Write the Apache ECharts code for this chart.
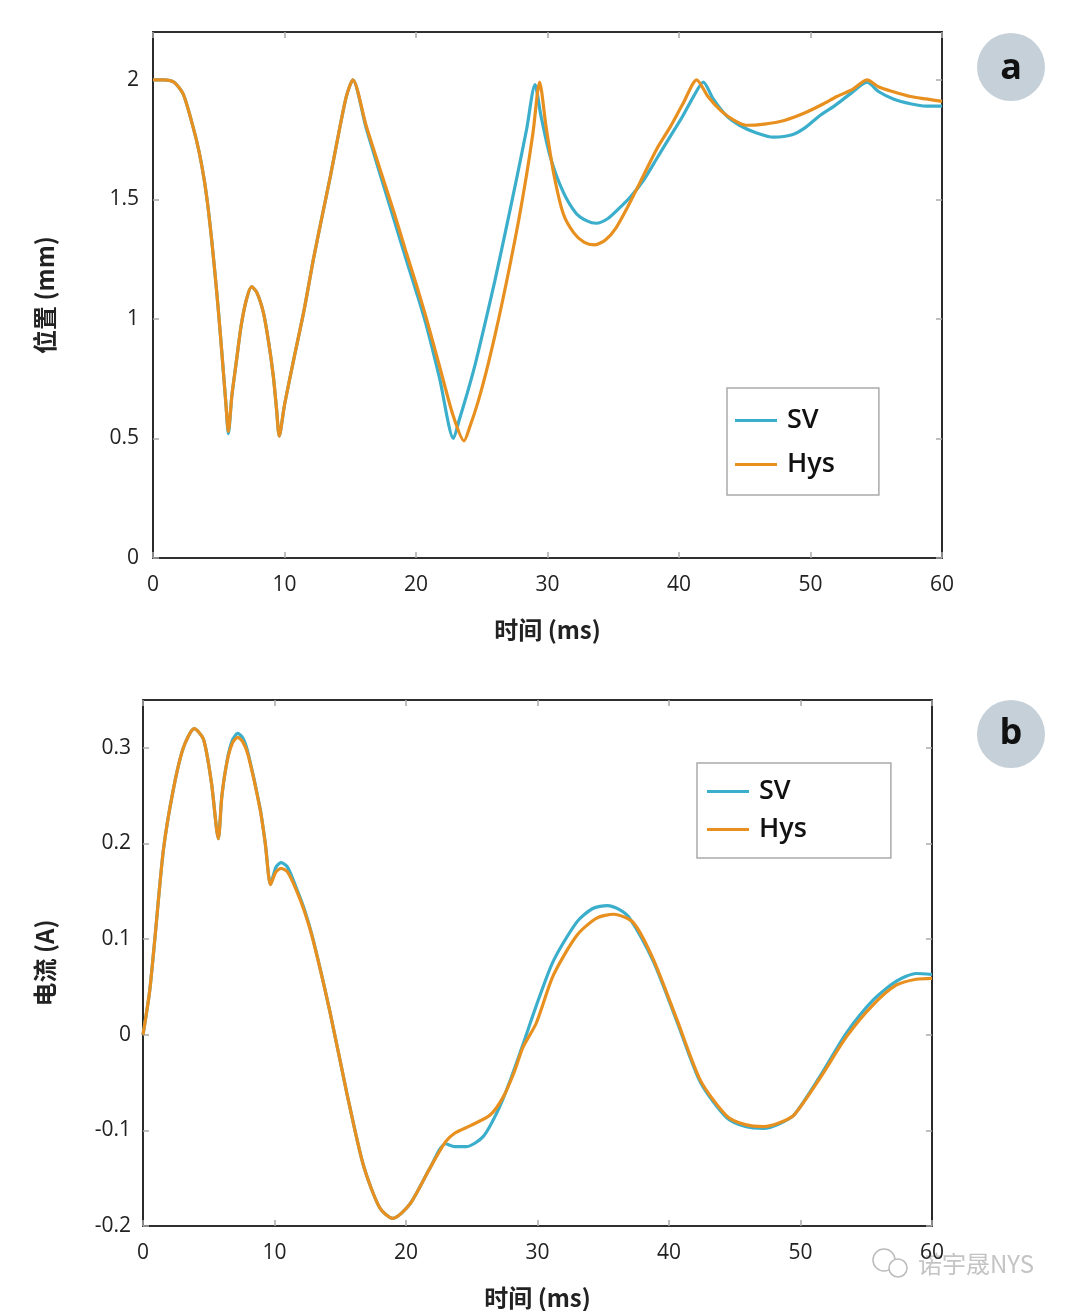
<!DOCTYPE html>
<html>
<head>
<meta charset="utf-8">
<script src="https://cdn.jsdelivr.net/npm/echarts@6/dist/echarts.min.js"></script>
<style>html,body{margin:0;padding:0;background:#fff}#c{width:1080px;height:1311px}</style>
</head>
<body>
<div id="c"></div>
<script>
// ---- Data (t in ms, value) ----
var posSV = [[0,2.0],[0.8,2.0],[1.6,1.99],[2.3,1.94],[3.06,1.80],[3.5,1.70],[3.9,1.58],[4.2,1.46],[4.5,1.31],[4.85,1.11],[5.1,0.95],[5.35,0.78],[5.55,0.64],[5.73,0.52],[6.0,0.68],[6.36,0.83],[6.7,0.97],[7.1,1.08],[7.5,1.135],[7.9,1.11],[8.4,1.025],[8.8,0.9],[9.15,0.76],[9.4,0.62],[9.6,0.51],[10.0,0.64],[10.7,0.83],[11.5,1.04],[12.2,1.25],[12.9,1.44],[13.5,1.60],[14.1,1.77],[14.7,1.93],[15.2,2.0],[16.2,1.80],[17.3,1.60],[18.3,1.42],[19.3,1.24],[20.1,1.10],[20.8,0.97],[21.8,0.75],[22.85,0.50],[23.3,0.58],[23.9,0.69],[24.5,0.81],[25.2,0.97],[26.0,1.16],[26.9,1.39],[27.7,1.60],[28.4,1.79],[29.05,1.98],[29.5,1.85],[30.2,1.68],[31.2,1.53],[32.2,1.44],[33.0,1.41],[33.7,1.40],[34.6,1.42],[35.4,1.46],[36.3,1.51],[37.3,1.58],[38.3,1.67],[39.3,1.76],[40.3,1.85],[41.1,1.93],[41.85,1.99],[42.6,1.92],[43.6,1.85],[44.6,1.81],[45.8,1.78],[47.2,1.76],[48.6,1.77],[49.6,1.80],[50.7,1.85],[51.8,1.89],[53.0,1.94],[54.3,1.99],[55.2,1.95],[56.3,1.92],[57.6,1.90],[58.8,1.89],[60,1.89]];
var posHys = [[0,2.0],[0.8,2.0],[1.6,1.99],[2.3,1.94],[3.06,1.80],[3.5,1.70],[3.9,1.58],[4.2,1.46],[4.5,1.31],[4.85,1.11],[5.1,0.95],[5.35,0.78],[5.55,0.64],[5.73,0.53],[6.0,0.68],[6.36,0.83],[6.7,0.97],[7.1,1.08],[7.5,1.135],[7.9,1.11],[8.4,1.025],[8.8,0.9],[9.15,0.76],[9.4,0.62],[9.6,0.51],[10.0,0.64],[10.7,0.83],[11.5,1.04],[12.2,1.25],[12.9,1.44],[13.5,1.60],[14.1,1.77],[14.7,1.93],[15.2,2.0],[16.2,1.81],[17.3,1.62],[18.3,1.45],[19.3,1.27],[20.1,1.13],[20.8,1.00],[21.8,0.80],[22.8,0.60],[23.65,0.49],[24.1,0.55],[24.7,0.65],[25.3,0.77],[26.0,0.93],[26.6,1.08],[27.2,1.24],[27.8,1.41],[28.4,1.60],[28.9,1.78],[29.4,1.99],[29.9,1.8],[30.5,1.6],[31.2,1.44],[32.0,1.36],[32.8,1.32],[33.6,1.31],[34.4,1.33],[35.2,1.38],[36.3,1.49],[37.3,1.6],[38.3,1.71],[39.3,1.80],[40.3,1.90],[41.35,2.0],[42.2,1.93],[43.2,1.87],[44.2,1.83],[45.1,1.81],[46.5,1.815],[48.0,1.83],[49.5,1.86],[51.0,1.90],[52.0,1.93],[53.2,1.96],[54.3,2.0],[55.2,1.97],[56.3,1.95],[57.6,1.93],[58.8,1.92],[60,1.91]];
var curSV = [[0,0],[0.5,0.045],[0.9,0.10],[1.55,0.193],[2.3,0.256],[3.07,0.30],[3.9,0.32],[4.6,0.309],[5.2,0.264],[5.73,0.205],[6.0,0.25],[6.4,0.287],[6.8,0.308],[7.2,0.315],[7.6,0.31],[8.0,0.294],[8.9,0.237],[9.3,0.2],[9.7,0.157],[10.1,0.175],[10.5,0.18],[11.0,0.175],[11.7,0.152],[12.3,0.13],[12.95,0.099],[14.2,0.025],[15.5,-0.061],[16.75,-0.136],[18.0,-0.181],[19.0,-0.192],[20.3,-0.177],[21.8,-0.140],[23.0,-0.114],[23.7,-0.117],[24.6,-0.117],[25.9,-0.106],[27.1,-0.076],[28.0,-0.045],[28.9,-0.01],[29.9,0.03],[31.2,0.077],[33.0,0.118],[34.2,0.132],[35.3,0.135],[36.2,0.131],[37.0,0.122],[38.8,0.077],[40.6,0.014],[42.4,-0.050],[44.4,-0.087],[45.8,-0.096],[47.2,-0.098],[48.4,-0.093],[49.5,-0.084],[51.5,-0.043],[53.5,0.002],[55.5,0.036],[57.3,0.056],[58.8,0.064],[60,0.063]];
var curHys = [[0,0],[0.5,0.045],[0.9,0.10],[1.55,0.193],[2.3,0.256],[3.07,0.30],[3.9,0.32],[4.6,0.309],[5.2,0.264],[5.73,0.205],[6.0,0.25],[6.4,0.286],[6.8,0.305],[7.2,0.311],[7.6,0.306],[8.0,0.292],[8.9,0.236],[9.3,0.2],[9.7,0.157],[10.1,0.17],[10.5,0.174],[11.0,0.17],[11.7,0.15],[12.3,0.128],[12.95,0.098],[14.2,0.025],[15.5,-0.061],[16.75,-0.136],[18.0,-0.181],[19.0,-0.192],[20.3,-0.177],[21.8,-0.140],[23.0,-0.112],[23.7,-0.103],[24.9,-0.095],[26.4,-0.084],[27.4,-0.065],[28.2,-0.04],[28.9,-0.013],[29.9,0.012],[31.2,0.062],[33.0,0.104],[34.5,0.122],[35.8,0.126],[37.3,0.117],[38.8,0.079],[40.6,0.016],[42.4,-0.048],[44.4,-0.085],[45.8,-0.094],[47.2,-0.096],[48.4,-0.092],[49.5,-0.084],[51.5,-0.045],[53.5,-0.002],[55.5,0.031],[57.3,0.052],[58.8,0.058],[60,0.059]];
var seriesNames = ['SV', 'Hys'];
var xTitle = '时间 (ms)';
var yTitleTop = '位置 (mm)';
var yTitleBottom = '电流 (A)';
var topTicks = [0, 0.5, 1, 1.5, 2];
var bottomTicks = [-0.2, -0.1, 0, 0.1, 0.2, 0.3];
var panelLabels = ['a', 'b'];
var watermark = '诺宇晟NYS';

var COL_SV = '#3aaecb', COL_HYS = '#e8901f';
var FONT = '"Open Sans", "Noto Sans", "Noto Sans CJK SC", sans-serif';
var CJK = '"Noto Sans CJK SC", "Open Sans", sans-serif';

var chart = echarts.init(document.getElementById('c'), null, {renderer: 'canvas'});

function xAx(grid, pos, show) {
  return {
    type: 'value', gridIndex: grid, position: pos, min: 0, max: 60, interval: 10,
    axisLine: {show: true, onZero: false, lineStyle: {color: '#222', width: 1.6}},
    axisTick: {show: true, inside: true, length: 6, lineStyle: {color: '#aaa', width: 1.5}},
    axisLabel: {show: show, fontSize: 21, color: '#222', fontFamily: FONT, margin: 17},
    splitLine: {show: false},
    name: show ? xTitle : '', nameLocation: 'middle', nameGap: 60,
    nameTextStyle: {fontSize: 24, fontWeight: 'bold', color: '#222', fontFamily: CJK}
  };
}
function yAx(grid, pos, show, min, max, ticks, name, gap, margin) {
  return {
    type: 'value', gridIndex: grid, position: pos, min: min, max: max,
    axisLine: {show: true, onZero: false, lineStyle: {color: '#222', width: 1.6}},
    axisTick: {show: true, inside: true, length: 6, customValues: ticks, lineStyle: {color: '#aaa', width: 1.5}},
    axisLabel: {show: show, fontSize: 21, color: '#222', fontFamily: FONT, margin: margin, customValues: ticks,
      formatter: function (v) { return String(+v.toFixed(2)); }},
    splitLine: {show: false},
    name: show ? name : '', nameLocation: 'middle', nameGap: gap, nameRotate: 90,
    nameTextStyle: {fontSize: 24, fontWeight: 'bold', color: '#222', fontFamily: CJK}
  };
}
function line(name, data, xi, yi, color, z) {
  return {
    name: name, type: 'line', data: data, xAxisIndex: xi, yAxisIndex: yi,
    showSymbol: false, symbol: 'none', smooth: 0.25, z: z,
    lineStyle: {color: color, width: 3.2}, itemStyle: {color: color}
  };
}
function legend(left, top, padding, gap) {
  return {
    data: seriesNames.map(function (n) { return {name: n}; }), orient: 'vertical', left: left, top: top,
    itemWidth: 42, itemHeight: 26, itemGap: gap, padding: padding,
    backgroundColor: '#fff', borderColor: '#aaa', borderWidth: 1.5,
    textStyle: {fontSize: 27, fontWeight: 600, color: '#111', fontFamily: FONT, padding: [0,0,0,5]},
    icon: 'path://M0,0 L42,0 L42,3 L0,3 Z'
  };
}

var option = {
  backgroundColor: '#fff',
  animation: false,
  grid: [
    {left: 153, top: 32, width: 789, height: 526, show: true, borderColor: '#222', borderWidth: 1.6, backgroundColor: '#fff'},
    {left: 143, top: 700, width: 789, height: 527, show: true, borderColor: '#222', borderWidth: 1.6, backgroundColor: '#fff'}
  ],
  xAxis: [xAx(0, 'bottom', true), xAx(0, 'top', false), xAx(1, 'bottom', true), xAx(1, 'top', false)],
  yAxis: [
    yAx(0, 'left', true, 0, 2.2, topTicks, yTitleTop, 96, 14),
    yAx(0, 'right', false, 0, 2.2, topTicks, '', 0, 0),
    yAx(1, 'left', true, -0.2, 0.35, bottomTicks, yTitleBottom, 86, 12),
    yAx(1, 'right', false, -0.2, 0.35, bottomTicks, '', 0, 0)
  ],
  legend: [
    legend(727, 388, [19, 44, 17, 8], 17),
    legend(697, 763, [15, 84, 15, 10], 11)
  ],
  series: [
    line('SV', posSV, 0, 0, COL_SV, 2),
    line('Hys', posHys, 0, 0, COL_HYS, 3),
    line('SV', curSV, 2, 2, COL_SV, 2),
    line('Hys', curHys, 2, 2, COL_HYS, 3)
  ],
  graphic: [
    {type: 'circle', shape: {cx: 1011, cy: 67, r: 34}, style: {fill: '#c5d0d9'}},
    {type: 'text', x: 1011, y: 69, style: {text: panelLabels[0], fontSize: 36, fontWeight: 'bold', fill: '#111', align: 'center', verticalAlign: 'middle', fontFamily: FONT}},
    {type: 'circle', shape: {cx: 1011, cy: 734, r: 34}, style: {fill: '#c5d0d9'}},
    {type: 'text', x: 1011, y: 734, style: {text: panelLabels[1], fontSize: 36, fontWeight: 'bold', fill: '#111', align: 'center', verticalAlign: 'middle', fontFamily: FONT}},
    {type: 'circle', shape: {cx: 884, cy: 1260, r: 11}, style: {fill: 'none', stroke: '#bbb', lineWidth: 1.5}},
    {type: 'circle', shape: {cx: 898, cy: 1268, r: 9}, style: {fill: '#fff', stroke: '#bbb', lineWidth: 1.5}},
    {type: 'text', x: 918, y: 1264, style: {text: watermark, fontSize: 24, fill: '#c4c4c4', verticalAlign: 'middle', fontFamily: CJK}}
  ]
};
chart.setOption(option);
</script>
</body>
</html>
